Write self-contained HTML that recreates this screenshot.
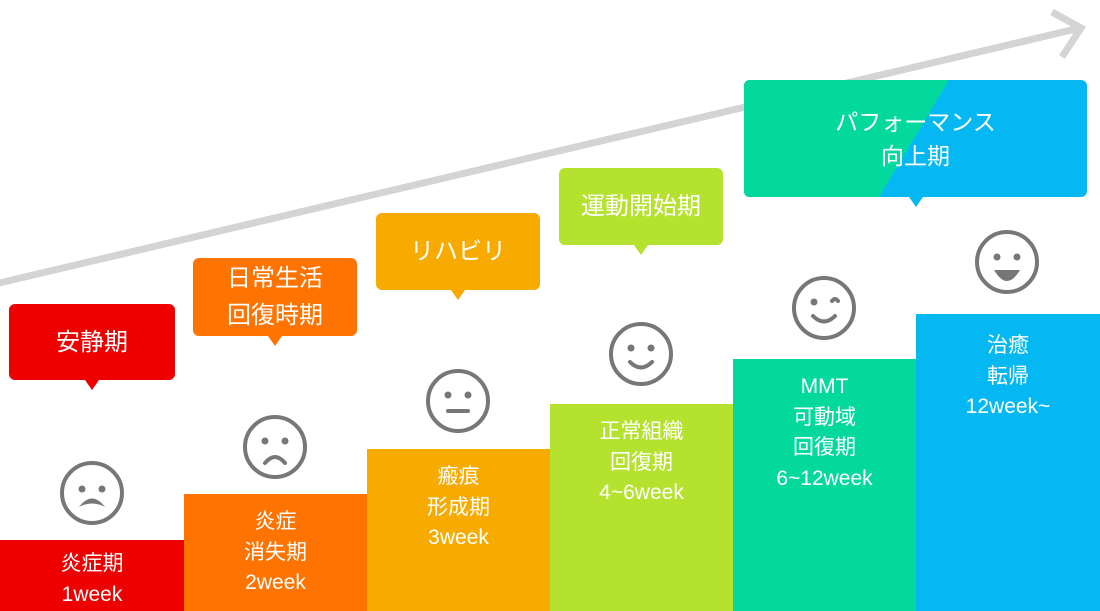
<!DOCTYPE html>
<html><head><meta charset="utf-8"><style>
html,body{margin:0;padding:0;background:#fff;width:1100px;height:611px;overflow:hidden;position:relative;font-family:"Liberation Sans","Noto Sans CJK JP",sans-serif;}
.bar{position:absolute;color:#fff;text-align:center;font-size:21px;line-height:30.5px;bottom:0;box-sizing:border-box;}
.c{position:absolute;color:#fff;text-align:center;font-size:24px;border-radius:6px;display:flex;align-items:center;justify-content:center;line-height:37px;}
.c:after{content:"";position:absolute;left:50%;bottom:-10px;margin-left:-7px;border-left:7px solid transparent;border-right:7px solid transparent;border-top:10px solid var(--k);}
</style></head><body>
<svg width="1100" height="611" style="position:absolute;left:0;top:0">
<line x1="-5" y1="284" x2="1080" y2="28" stroke="#d4d4d4" stroke-width="7"/>
<polyline points="1052,12 1081,28 1062,57" fill="none" stroke="#d4d4d4" stroke-width="7"/>
<g fill="none" stroke="#777" stroke-width="4" stroke-linecap="round">
<circle cx="92" cy="493" r="30"/><circle cx="275" cy="447" r="30"/><circle cx="458" cy="401" r="30"/>
<circle cx="641" cy="354" r="30"/><circle cx="824" cy="308" r="30"/><circle cx="1007" cy="262" r="30"/>
<path d="M265,463 Q275,451 285,463"/>
<line x1="448" y1="411" x2="468" y2="411"/>
<path d="M630,362 Q641,373 652,362"/>
<path d="M813,316 Q824,327 835,316"/>
<path d="M832,301 Q835,297 838,301"/>
</g>
<g fill="#777">
<circle cx="82" cy="489" r="3.5"/><circle cx="102" cy="489" r="3.5"/>
<path d="M79,507 Q92,490 105,507 Q92,500 79,507Z"/>
<circle cx="265" cy="441" r="3.5"/><circle cx="285" cy="441" r="3.5"/>
<circle cx="448" cy="395" r="3.5"/><circle cx="468" cy="395" r="3.5"/>
<circle cx="631" cy="348" r="3.5"/><circle cx="651" cy="348" r="3.5"/>
<circle cx="814" cy="302" r="3.5"/>
<circle cx="997" cy="257" r="3.5"/><circle cx="1017" cy="257" r="3.5"/>
<path d="M994,270 L1020,270 Q1007,292 994,270Z"/>
</g>
</svg>
<div class="bar" style="left:0;width:184px;top:540px;background:#ee0000;padding-top:9px">炎症期<br>1week</div>
<div class="bar" style="left:184px;width:183px;top:494px;background:#ff7300;padding-top:13px">炎症<br>消失期<br>2week</div>
<div class="bar" style="left:367px;width:183px;top:449px;background:#f7ab00;padding-top:13px">瘢痕<br>形成期<br>3week</div>
<div class="bar" style="left:550px;width:183px;top:404px;background:#b5e22e;padding-top:13px">正常組織<br>回復期<br>4~6week</div>
<div class="bar" style="left:733px;width:183px;top:359px;background:#03d99c;padding-top:13px">MMT<br>可動域<br>回復期<br>6~12week</div>
<div class="bar" style="left:916px;width:184px;top:314px;background:#06b8f1;padding-top:17px">治癒<br>転帰<br>12week~</div>
<div class="c" style="--k:#ee0000;background:#ee0000;left:9px;top:304px;width:166px;height:76px">安静期</div>
<div class="c" style="--k:#ff7300;background:#ff7300;left:193px;top:258px;width:164px;height:78px">日常生活<br>回復時期</div>
<div class="c" style="--k:#f7ab00;background:#f7ab00;left:376px;top:213px;width:164px;height:77px">リハビリ</div>
<div class="c" style="--k:#b5e22e;background:#b5e22e;left:559px;top:168px;width:164px;height:77px">運動開始期</div>
<div class="c" style="--k:#06b8f1;background:#06b8f1;left:744px;top:80px;width:343px;height:117px;line-height:34px;font-size:23px">
<svg width="343" height="117" style="position:absolute;left:0;top:0"><path d="M6,0 L205,0 L135,117 L6,117 Q0,117 0,111 L0,6 Q0,0 6,0Z" fill="#03d99c"/></svg>
<span style="position:relative">パフォーマンス<br>向上期</span></div>
</body></html>
